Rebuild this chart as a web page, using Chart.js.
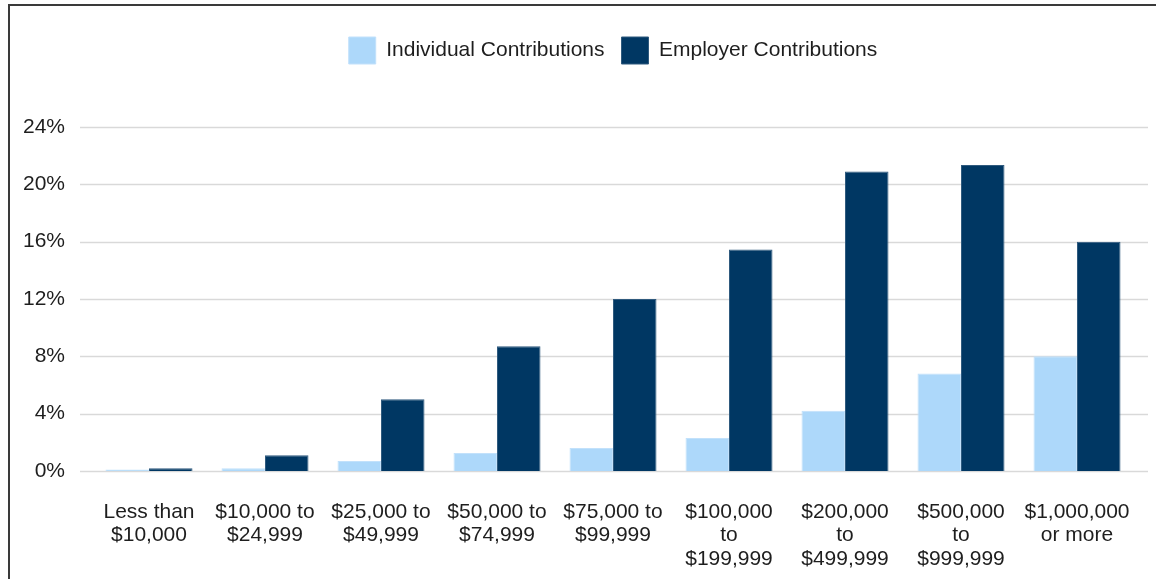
<!DOCTYPE html>
<html>
<head>
<meta charset="utf-8">
<script src="https://cdn.jsdelivr.net/npm/chart.js@4/dist/chart.umd.min.js"></script>
<style>
    html, body { margin: 0; padding: 0; background: #fff; overflow: hidden; }
    #wrap { position: relative; width: 1156px; height: 579px; }
    #frame {
        position: absolute; left: 8px; top: 4px; width: 1200px; height: 700px;
        border-left: 2px solid #3a3a3a; border-top: 2px solid #3a3a3a;
        pointer-events: none;
    }
    canvas { position: absolute; left: 0; top: 0; }
</style>
</head>
<body>
<div id="wrap">
    <canvas id="contribChart" width="1156" height="579"></canvas>
    <div id="frame"></div>
</div>
<script>
// income brackets
const categories = [
    ['Less than', '$10,000'],
    ['$10,000 to', '$24,999'],
    ['$25,000 to', '$49,999'],
    ['$50,000 to', '$74,999'],
    ['$75,000 to', '$99,999'],
    ['$100,000', 'to', '$199,999'],
    ['$200,000', 'to', '$499,999'],
    ['$500,000', 'to', '$999,999'],
    ['$1,000,000', 'or more']
];
const individual = [0.1, 0.2, 0.7, 1.25, 1.6, 2.3, 4.2, 6.8, 8.0];
const employer = [0.2, 1.1, 5.0, 8.7, 12.0, 15.45, 20.9, 21.35, 16.0];
const yTicks = [0, 4, 8, 12, 16, 20, 24];

const FONT = "'Liberation Sans', Arial, sans-serif";
const TEXT = '#1e1e1e';

// gridlines run a bit wider than the category area
const gridPlugin = {
    id: 'wideGrid',
    beforeDatasetsDraw(chart) {
        const ctx = chart.ctx;
        const y = chart.scales.y;
        const area = chart.chartArea;
        ctx.save();
        ctx.strokeStyle = '#d9d9d9';
        ctx.lineWidth = 1.5;
        yTicks.forEach(v => {
            const py = Math.round(y.getPixelForValue(v)) + 0.5;
            ctx.beginPath();
            ctx.moveTo(area.left - 11, py);
            ctx.lineTo(area.right + 13, py);
            ctx.stroke();
        });
        ctx.restore();
    }
};

const legendGap = {
    id: 'legendGap',
    beforeInit(chart) {
        const fit = chart.legend.fit;
        chart.legend.fit = function () {
            fit.bind(chart.legend)();
            this.height += 53;
        };
    }
};

const ctx = document.getElementById('contribChart');
new Chart(ctx, {
    type: 'bar',
    data: {
        labels: categories,
        datasets: [{
            label: 'Individual Contributions',
            data: individual,
            backgroundColor: '#add8fa',
            borderColor: '#c2e1fb',
            borderWidth: 1,
            categoryPercentage: 0.75,
            barPercentage: 1.0
        }, {
            label: 'Employer Contributions',
            data: employer,
            backgroundColor: '#003763',
            borderColor: '#2f5a7e',
            borderWidth: 1,
            categoryPercentage: 0.75,
            barPercentage: 1.0
        }]
    },
    options: {
        responsive: false,
        animation: false,
        devicePixelRatio: 1,
        layout: { padding: { top: 20, left: 0, right: 21, bottom: 0 } },
        plugins: {
            tooltip: { enabled: false },
            legend: {
                position: 'top',
                fullSize: false,
                labels: {
                    boxWidth: 27,
                    boxHeight: 27,
                    padding: 17,
                    color: TEXT,
                    font: { family: FONT, size: 21 }
                }
            }
        },
        scales: {
            x: {
                grid: { display: false, drawTicks: false },
                border: { display: false },
                ticks: {
                    color: TEXT,
                    padding: 29,
                    maxRotation: 0,
                    autoSkip: false,
                    font: { family: FONT, size: 21, lineHeight: 1.12 }
                },
                afterFit(scale) {
                    scale.height = 108;
                    scale.paddingLeft = 0;
                    scale.paddingRight = 0;
                }
            },
            y: {
                min: 0,
                max: 24,
                grid: { display: false, drawTicks: false },
                border: { display: false },
                ticks: {
                    stepSize: 4,
                    color: TEXT,
                    padding: 26,
                    font: { family: FONT, size: 21 },
                    callback: v => v + '%'
                },
                afterFit(scale) { scale.width = 91; }
            }
        }
    },
    plugins: [gridPlugin, legendGap]
});
</script>
</body>
</html>
